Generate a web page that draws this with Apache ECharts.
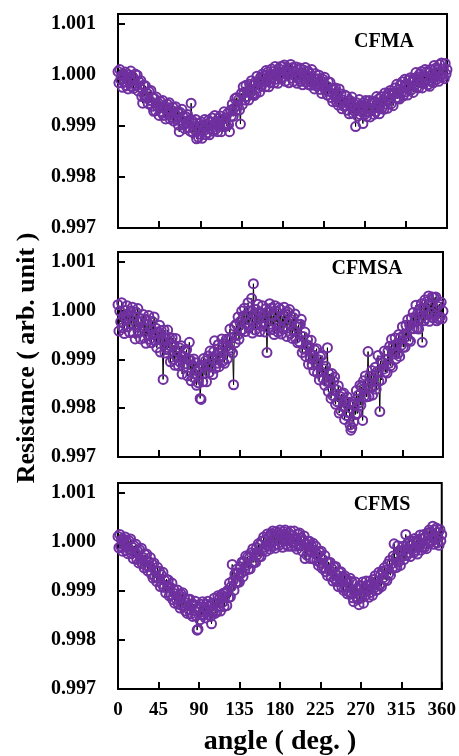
<!DOCTYPE html>
<html>
<head>
<meta charset="utf-8">
<script src="https://cdn.jsdelivr.net/npm/echarts@6/dist/echarts.min.js"></script>
<style>
html,body{margin:0;padding:0;background:#fff;}
#chart{width:459px;height:756px;}
</style>
</head>
<body>
<div id="chart"></div>
<script>
// angle categories (deg), 1-degree steps
const angles = Array.from({length: 361}, (_, i) => i);
const xTicks = [0, 45, 90, 135, 180, 225, 270, 315, 360];
const yTicks = [0.997, 0.998, 0.999, 1.000, 1.001];
const panelNames = ['CFMA', 'CFMSA', 'CFMS'];

const cfma = [
1.00007,0.99985,1.00011,0.99991,0.99999,0.99976,1.00002,0.99986,1.00006,0.99979,
0.99996,0.99973,1.00001,0.99988,1.00008,0.99978,0.99997,0.99974,0.99990,1.00002,
0.99979,1.00000,0.99969,0.99987,0.99976,0.99989,0.99958,0.99945,0.99980,0.99960,
0.99979,0.99957,0.99964,0.99944,0.99968,0.99950,0.99970,0.99939,0.99955,0.99929,
0.99954,0.99930,0.99957,0.99938,0.99945,0.99921,0.99949,0.99928,0.99937,0.99950,
0.99921,0.99939,0.99914,0.99933,0.99943,0.99923,0.99946,0.99914,0.99932,0.99917,
0.99937,0.99910,0.99926,0.99938,0.99914,0.99927,0.99902,0.99889,0.99927,0.99912,
0.99933,0.99903,0.99917,0.99895,0.99919,0.99907,0.99923,0.99897,0.99912,0.99890,
0.99945,0.99911,0.99887,0.99905,0.99893,0.99913,0.99875,0.99898,0.99878,0.99905,
0.99884,0.99908,0.99876,0.99901,0.99891,0.99913,0.99883,0.99901,0.99887,0.99911,
0.99883,0.99908,0.99895,0.99916,0.99890,0.99904,0.99921,0.99894,0.99909,0.99889,
0.99915,0.99900,0.99920,0.99889,0.99914,0.99899,0.99928,0.99904,0.99916,0.99900,
0.99925,0.99903,0.99889,0.99931,0.99920,0.99943,0.99919,0.99935,0.99954,0.99930,
0.99956,0.99941,0.99952,0.99932,0.99904,0.99964,0.99942,0.99977,0.99965,0.99951,
0.99980,0.99958,0.99969,0.99951,0.99982,0.99966,0.99989,0.99962,0.99980,0.99960,
0.99986,0.99964,0.99998,0.99975,0.99986,0.99967,0.99996,0.99978,1.00002,0.99987,
0.99999,0.99977,1.00009,0.99988,1.00006,0.99977,1.00001,0.99985,1.00012,0.99995,
1.00007,0.99985,1.00017,0.99992,1.00005,0.99984,1.00013,0.99999,1.00017,0.99992,
1.00017,0.99997,1.00020,0.99988,1.00011,1.00001,1.00014,0.99985,1.00006,1.00021,
0.99994,1.00015,0.99988,1.00008,0.99999,1.00016,0.99984,1.00010,0.99992,1.00014,
0.99988,1.00005,0.99981,1.00010,0.99993,1.00015,0.99986,0.99999,1.00008,0.99981,
1.00003,0.99980,1.00011,0.99986,0.99994,0.99973,1.00003,0.99979,0.99993,0.99983,
1.00000,0.99972,0.99988,0.99964,0.99992,0.99978,0.99996,0.99970,0.99979,0.99961,
0.99987,0.99968,0.99986,0.99956,0.99974,0.99948,0.99973,0.99959,0.99975,0.99948,
0.99962,0.99941,0.99973,0.99947,0.99963,0.99934,0.99951,0.99939,0.99961,0.99940,
0.99959,0.99931,0.99946,0.99924,0.99950,0.99938,0.99957,0.99925,0.99944,0.99929,
0.99899,0.99946,0.99920,0.99937,0.99952,0.99923,0.99941,0.99928,0.99905,0.99946,
0.99923,0.99950,0.99919,0.99937,0.99928,0.99950,0.99918,0.99945,0.99934,0.99949,
0.99923,0.99945,0.99928,0.99958,0.99936,0.99953,0.99924,0.99945,0.99958,0.99936,
0.99951,0.99933,0.99965,0.99943,0.99959,0.99935,0.99965,0.99951,0.99970,0.99944,
0.99965,0.99940,0.99963,0.99975,0.99955,0.99982,0.99954,0.99972,0.99953,0.99981,
0.99966,0.99987,0.99959,0.99976,0.99992,0.99967,0.99983,0.99961,0.99991,0.99978,
0.99995,0.99971,0.99986,0.99966,0.99994,0.99981,1.00005,0.99976,0.99997,0.99975,
1.00002,0.99985,1.00007,0.99975,0.99998,0.99984,1.00011,0.99991,1.00007,0.99981,
1.00004,0.99978,1.00011,0.99990,1.00002,0.99985,1.00019,0.99997,1.00014,0.99992,
1.00011,0.99988,1.00021,0.99998,1.00024,0.99996,1.00012,0.99993,1.00023,1.00002,
1.00011
];

const cfmsa = [
1.00012,0.99958,0.99999,0.99977,1.00016,0.99965,0.99988,0.99953,1.00000,0.99980,
1.00010,0.99967,0.99989,0.99955,0.99999,0.99973,1.00007,0.99955,0.99988,0.99942,
0.99997,0.99966,1.00004,0.99955,0.99977,0.99942,0.99983,0.99965,0.99992,0.99944,
0.99982,0.99933,0.99971,0.99951,0.99990,0.99941,0.99963,0.99934,0.99978,0.99951,
0.99987,0.99938,0.99964,0.99924,0.99956,0.99941,0.99970,0.99915,0.99959,0.99940,
0.99859,0.99960,0.99913,0.99944,0.99920,0.99960,0.99924,0.99945,0.99895,0.99927,
0.99944,0.99900,0.99929,0.99888,0.99943,0.99905,0.99917,0.99887,0.99924,0.99894,
0.99928,0.99870,0.99907,0.99884,0.99916,0.99891,0.99920,0.99866,0.99900,0.99935,
0.99899,0.99856,0.99888,0.99864,0.99901,0.99870,0.99893,0.99847,0.99876,0.99852,
0.99881,0.99820,0.99818,0.99888,0.99854,0.99902,0.99871,0.99897,0.99854,0.99889,
0.99907,0.99873,0.99917,0.99884,0.99903,0.99869,0.99916,0.99938,0.99882,0.99909,
0.99892,0.99930,0.99885,0.99917,0.99906,0.99942,0.99896,0.99932,0.99892,0.99925,
0.99941,0.99901,0.99940,0.99923,0.99962,0.99919,0.99944,0.99913,0.99848,0.99968,
0.99934,0.99972,0.99949,0.99987,0.99941,0.99977,0.99959,0.99999,0.99961,0.99989,
1.00005,0.99957,0.99991,0.99974,1.00016,0.99965,0.99999,0.99979,1.00025,0.99954,
1.00055,0.99993,0.99960,1.00002,0.99971,1.00013,0.99982,0.99957,0.99996,0.99968,
1.00010,0.99977,0.99988,0.99956,1.00004,0.99914,0.99998,0.99964,1.00014,0.99972,
1.00005,0.99961,0.99990,0.99951,1.00010,0.99976,0.99998,0.99956,1.00006,0.99966,
1.00002,0.99952,0.99985,0.99962,1.00007,0.99967,0.99992,0.99947,0.99997,0.99974,
1.00002,0.99953,0.99981,0.99943,0.99986,0.99959,0.99993,0.99943,0.99967,0.99934,
0.99971,0.99936,0.99972,0.99982,0.99914,0.99947,0.99921,0.99956,0.99906,0.99930,
0.99940,0.99890,0.99926,0.99902,0.99939,0.99889,0.99909,0.99876,0.99919,0.99893,
0.99922,0.99872,0.99899,0.99858,0.99906,0.99875,0.99908,0.99861,0.99881,0.99847,
0.99886,0.99855,0.99924,0.99834,0.99870,0.99853,0.99820,0.99871,0.99826,0.99855,
0.99864,0.99808,0.99838,0.99813,0.99846,0.99790,0.99824,0.99795,0.99829,0.99803,
0.99831,0.99777,0.99814,0.99785,0.99823,0.99791,0.99812,0.99766,0.99755,0.99760,
0.99813,0.99772,0.99808,0.99787,0.99836,0.99789,0.99826,0.99811,0.99847,0.99806,
0.99844,0.99775,0.99856,0.99825,0.99866,0.99823,0.99848,0.99916,0.99824,0.99865,
0.99842,0.99877,0.99827,0.99868,0.99846,0.99884,0.99839,0.99875,0.99908,0.99855,
0.99793,0.99897,0.99858,0.99894,0.99880,0.99917,0.99874,0.99900,0.99872,0.99917,
0.99892,0.99927,0.99887,0.99941,0.99884,0.99928,0.99911,0.99944,0.99901,0.99932,
0.99912,0.99951,0.99906,0.99945,0.99929,0.99967,0.99925,0.99951,0.99925,0.99970,
0.99947,0.99981,0.99939,0.99970,0.99937,0.99985,0.99963,0.99996,0.99963,0.99986,
1.00011,0.99964,0.99994,0.99962,1.00003,0.99984,1.00014,0.99935,1.00005,0.99979,
1.00022,0.99984,1.00018,0.99991,1.00030,0.99978,1.00014,0.99995,1.00028,0.99985,
1.00027,0.99990,1.00028,0.99979,1.00009,0.99983,1.00013,0.99987,1.00017,0.99983,
0.99999
];

const cfms = [
1.00011,0.99988,1.00015,0.99991,1.00004,0.99981,1.00006,0.99993,1.00010,0.99982,
1.00000,0.99976,1.00003,0.99984,1.00006,0.99976,0.99989,0.99966,0.99992,0.99978,
0.99995,0.99964,0.99981,0.99957,0.99984,0.99965,0.99987,0.99955,0.99968,0.99947,
0.99974,0.99952,0.99975,0.99941,0.99960,0.99949,0.99968,0.99934,0.99955,0.99926,
0.99957,0.99929,0.99941,0.99919,0.99948,0.99926,0.99940,0.99909,0.99933,0.99914,
0.99938,0.99907,0.99921,0.99896,0.99924,0.99907,0.99922,0.99890,0.99908,0.99892,
0.99916,0.99882,0.99903,0.99875,0.99894,0.99883,0.99902,0.99873,0.99892,0.99865,
0.99894,0.99870,0.99896,0.99871,0.99886,0.99859,0.99876,0.99854,0.99883,0.99861,
0.99883,0.99853,0.99872,0.99848,0.99873,0.99860,0.99879,0.99849,0.99820,0.99822,
0.99867,0.99841,0.99873,0.99852,0.99878,0.99850,0.99866,0.99845,0.99873,0.99858,
0.99879,0.99851,0.99868,0.99848,0.99833,0.99875,0.99859,0.99885,0.99854,0.99875,
0.99858,0.99890,0.99868,0.99886,0.99859,0.99892,0.99876,0.99895,0.99868,0.99888,
0.99897,0.99870,0.99901,0.99886,0.99916,0.99888,0.99909,0.99954,0.99921,0.99901,
0.99934,0.99917,0.99944,0.99917,0.99937,0.99918,0.99949,0.99936,0.99959,0.99929,
0.99959,0.99941,0.99971,0.99952,0.99969,0.99944,0.99967,0.99945,0.99978,0.99958,
0.99986,0.99958,0.99977,0.99958,0.99988,0.99974,0.99996,0.99970,0.99994,0.99970,
1.00002,0.99982,1.00010,0.99989,1.00004,0.99981,1.00016,0.99991,1.00011,0.99985,
1.00017,0.99997,1.00022,0.99992,1.00010,0.99987,1.00021,1.00003,1.00018,0.99993,
1.00024,0.99999,1.00016,0.99989,1.00021,1.00001,1.00024,0.99995,1.00012,0.99991,
1.00018,1.00003,1.00022,0.99991,1.00013,0.99998,1.00022,0.99991,1.00006,0.99985,
1.00016,0.99992,1.00018,0.99993,1.00008,0.99981,1.00003,1.00012,0.99966,0.99996,
0.99973,1.00001,0.99981,1.00001,0.99966,0.99992,0.99979,0.99997,0.99965,0.99983,
0.99991,0.99962,0.99974,0.99952,0.99979,0.99957,0.99981,0.99946,0.99964,0.99948,
0.99972,0.99939,0.99959,0.99931,0.99959,0.99942,0.99958,0.99929,0.99945,0.99920,
0.99949,0.99925,0.99950,0.99919,0.99932,0.99909,0.99938,0.99919,0.99939,0.99907,
0.99928,0.99901,0.99931,0.99909,0.99924,0.99894,0.99916,0.99897,0.99926,0.99897,
0.99919,0.99886,0.99878,0.99898,0.99918,0.99887,0.99905,0.99883,0.99872,0.99892,
0.99911,0.99886,0.99918,0.99875,0.99907,0.99891,0.99920,0.99900,0.99912,0.99887,
0.99920,0.99897,0.99913,0.99891,0.99923,0.99906,0.99931,0.99901,0.99920,0.99903,
0.99938,0.99911,0.99932,0.99909,0.99940,0.99927,0.99947,0.99923,0.99942,0.99921,
0.99955,0.99935,0.99962,0.99932,0.99955,0.99946,0.99971,0.99996,0.99947,0.99969,
0.99948,0.99992,0.99959,0.99982,0.99952,0.99982,0.99970,0.99991,0.99964,0.99984,
1.00015,0.99972,0.99997,0.99978,1.00002,0.99970,0.99995,0.99985,1.00002,0.99978,
1.00007,0.99983,1.00003,0.99975,1.00000,0.99990,1.00014,0.99983,1.00007,0.99990,
1.00015,0.99989,1.00010,0.99986,1.00018,1.00002,1.00024,0.99998,1.00020,1.00003,
1.00032,0.99995,1.00024,1.00005,1.00028,0.99998,1.00019,0.99993,1.00025,1.00002,
1.00015
];

const seriesData = [cfma, cfmsa, cfms];
const FONT = "'Liberation Serif', 'Times New Roman', serif";
const PURPLE = '#7030a0';

const grids = [
  {left: 118, top: 14, width: 329, height: 214},
  {left: 118, top: 252, width: 325, height: 205},
  {left: 118, top: 483, width: 325, height: 206}
];
const labelPos = [[384, 42], [367, 269], [382, 505]];

const option = {
  animation: false,
  backgroundColor: '#fff',
  grid: grids.map(g => Object.assign({show: true, borderColor: '#000', borderWidth: 2, backgroundColor: 'transparent'}, g)),
  xAxis: grids.map((g, i) => ({
    type: 'value', gridIndex: i,
    min: xTicks[0], max: xTicks[xTicks.length - 1], interval: 45,
    axisLine: {show: true, onZero: false, lineStyle: {color: '#000', width: 2}},
    axisTick: {show: true, inside: true, length: 7, lineStyle: {color: '#000', width: 2}},
    axisLabel: {show: i === 2, color: '#000', fontFamily: FONT, fontWeight: 'bold', fontSize: 19, margin: 12},
    splitLine: {show: false}
  })),
  yAxis: grids.map((g, i) => ({
    type: 'value', gridIndex: i,
    min: yTicks[0], max: 1.0012, interval: 0.001,
    axisLine: {show: true, onZero: false, lineStyle: {color: '#000', width: 2}},
    axisTick: {show: true, inside: true, length: 7, lineStyle: {color: '#000', width: 2}},
    axisLabel: {
      color: '#000', fontFamily: FONT, fontWeight: 'bold', fontSize: 20, margin: 22,
      showMaxLabel: false,
      formatter: v => (v > yTicks[yTicks.length - 1] + 0.00005 ? '' : v.toFixed(3))
    },
    splitLine: {show: false}
  })),
  series: seriesData.map((d, i) => ({
    type: 'line', xAxisIndex: i, yAxisIndex: i,
    data: d.map((v, k) => [angles[k], v]),
    symbol: 'circle', symbolSize: 9, showAllSymbol: true,
    lineStyle: {color: '#000', width: 1},
    itemStyle: {color: 'rgba(255,255,255,0)', borderColor: PURPLE, borderWidth: 2},
    emphasis: {disabled: true}
  })),
  graphic: [
    ...panelNames.map((n, i) => ({
      type: 'text', x: labelPos[i][0], y: labelPos[i][1],
      style: {text: n, fill: '#000', font: 'bold 20px ' + FONT, textAlign: 'center', textVerticalAlign: 'middle'}
    })),
    {
      type: 'text', x: 280, y: 742,
      style: {text: 'angle ( deg. )', fill: '#000', font: 'bold 28px ' + FONT, textAlign: 'center', textVerticalAlign: 'middle'}
    },
    {
      type: 'text', x: 27, y: 358, rotation: Math.PI / 2,
      style: {text: 'Resistance ( arb. unit )', fill: '#000', font: 'bold 26px ' + FONT, textAlign: 'center', textVerticalAlign: 'middle'}
    }
  ]
};

const chart = echarts.init(document.getElementById('chart'), null, {renderer: 'canvas'});
chart.setOption(option);
</script>
</body>
</html>
